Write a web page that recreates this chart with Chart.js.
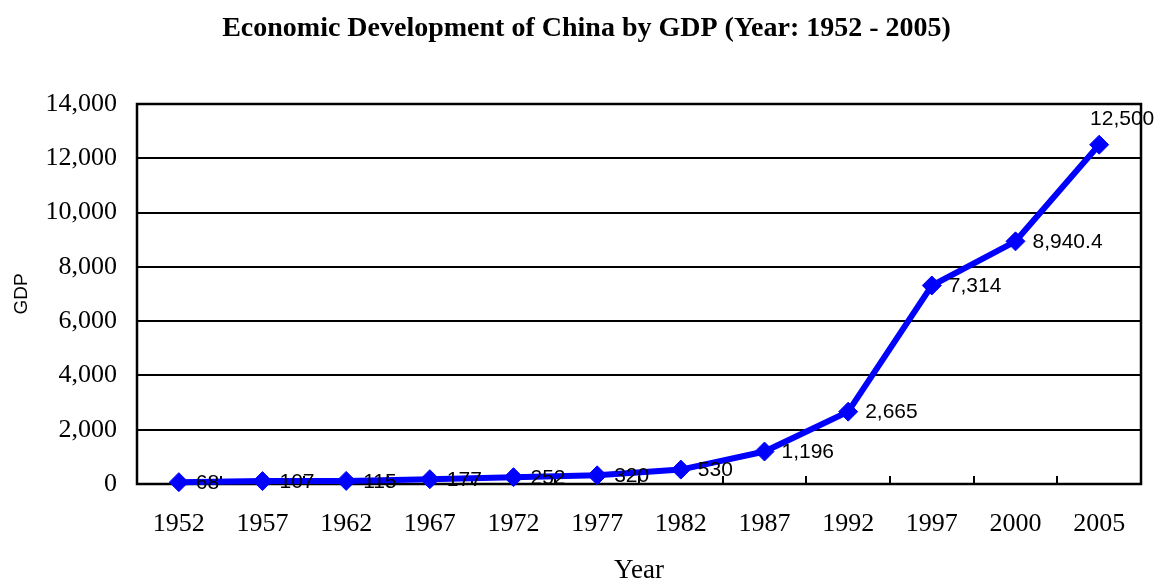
<!DOCTYPE html>
<html>
<head>
<meta charset="utf-8">
<title>Economic Development of China by GDP</title>
<script src="https://cdn.jsdelivr.net/npm/chart.js@4"></script>
<style>
  html, body { margin: 0; padding: 0; background: #ffffff; }
  #wrap { width: 1161px; height: 582px; }
</style>
</head>
<body>
<div id="wrap"><canvas id="gdpChart" width="1161" height="582"></canvas></div>
<script>
// GDP by year (100 million yuan)
const years = ['1952', '1957', '1962', '1967', '1972', '1977', '1982', '1987', '1992', '1997', '2000', '2005'];
const gdp = [68, 107, 115, 177, 252, 320, 530, 1196, 2665, 7314, 8940.4, 12500];
const yMin = 0;
const yMax = 14000;
const yStep = 2000;

const SERIF = '"Liberation Serif", "Times New Roman", serif';
const SANS = '"Liberation Sans", Arial, sans-serif';
const fmt = v => v.toLocaleString('en-US', { maximumFractionDigits: 1 });

// Black frame round the plot area plus short inward ticks between categories
const framePlugin = {
  id: 'frame',
  beforeDatasetsDraw(chart) {
    const { ctx, chartArea: a, scales: { x } } = chart;
    ctx.save();
    ctx.strokeStyle = '#000';
    ctx.lineWidth = 2;
    for (let i = 1; i < years.length; i++) {
      const px = Math.round((x.getPixelForValue(i - 1) + x.getPixelForValue(i)) / 2);
      ctx.beginPath();
      ctx.moveTo(px, a.bottom);
      ctx.lineTo(px, a.bottom - 8);
      ctx.stroke();
    }
    ctx.lineWidth = 2.5;
    ctx.strokeRect(a.left, a.top, a.right - a.left, a.bottom - a.top);
    ctx.restore();
  }
};

// Value labels beside each point; the last one sits above its point
const valueLabels = {
  id: 'valueLabels',
  afterDatasetsDraw(chart) {
    const { ctx } = chart;
    const meta = chart.getDatasetMeta(0);
    ctx.save();
    ctx.font = '21px ' + SANS;
    ctx.fillStyle = '#000';
    ctx.textBaseline = 'middle';
    meta.data.forEach((pt, i) => {
      const last = i === meta.data.length - 1;
      ctx.textAlign = last ? 'center' : 'left';
      ctx.fillText(fmt(gdp[i]), last ? pt.x + 23 : pt.x + 17, last ? pt.y - 26 : pt.y + 1);
    });
    ctx.restore();
  }
};

new Chart(document.getElementById('gdpChart'), {
  type: 'line',
  data: {
    labels: years,
    datasets: [{
      label: 'GDP',
      data: gdp,
      borderColor: '#0000ff',
      backgroundColor: '#0000ff',
      borderWidth: 6,
      tension: 0,
      pointStyle: 'rectRot',
      pointRadius: 9.5,
      pointHoverRadius: 9.5,
      pointBorderWidth: 1,
      pointBackgroundColor: '#0000ff',
      pointBorderColor: '#0000ff',
      clip: false
    }]
  },
  options: {
    responsive: false,
    animation: false,
    events: [],
    layout: { padding: { left: 32, right: 20, top: 0, bottom: 0 } },
    plugins: {
      legend: { display: false },
      tooltip: { enabled: false },
      title: {
        display: true,
        text: 'Economic Development of China by GDP (Year: 1952 - 2005)',
        color: '#000',
        font: { family: SERIF, size: 28, weight: 'bold', lineHeight: 1.2 },
        padding: { top: 11.6, bottom: 58.8 }
      }
    },
    scales: {
      x: {
        type: 'category',
        offset: true,
        grid: { display: false, drawTicks: false },
        border: { display: false },
        ticks: {
          color: '#000',
          padding: 25,
          maxRotation: 0,
          autoSkip: false,
          font: { family: SERIF, size: 26, lineHeight: 1.2 }
        },
        title: {
          display: true,
          text: 'Year',
          color: '#000',
          font: { family: SERIF, size: 27, lineHeight: 0.8 },
          padding: { top: 0, bottom: 0 }
        },
        afterFit(scale) { scale.height = 98; }
      },
      y: {
        min: yMin,
        max: yMax,
        grid: { color: '#000', lineWidth: 2, drawTicks: false },
        border: { display: false },
        ticks: {
          stepSize: yStep,
          color: '#000',
          padding: 20,
          font: { family: SERIF, size: 26 },
          callback: v => fmt(v)
        },
        title: {
          display: true,
          text: 'GDP',
          color: '#000',
          font: { family: SANS, size: 19, lineHeight: 1.2 },
          padding: { top: -21.4, bottom: 0 }
        },
        afterFit(scale) { scale.width = 105; }
      }
    }
  },
  plugins: [framePlugin, valueLabels]
});
</script>
</body>
</html>
